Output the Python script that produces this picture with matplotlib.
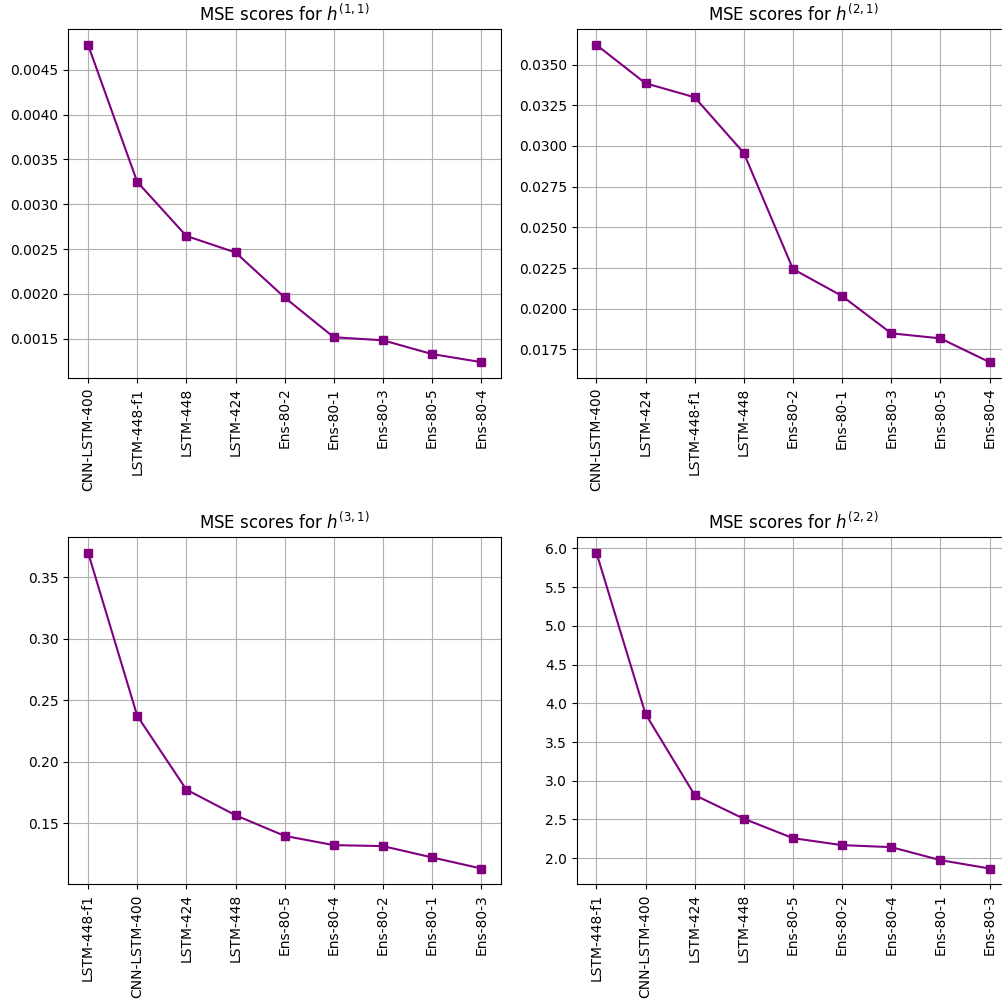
import matplotlib
matplotlib.use("Agg")
import matplotlib.pyplot as plt

labels_11 = ["CNN-LSTM-400", "LSTM-448-f1", "LSTM-448", "LSTM-424", "Ens-80-2",
             "Ens-80-1", "Ens-80-3", "Ens-80-5", "Ens-80-4"]
mse_11 = [0.00478, 0.00325, 0.002646, 0.002462, 0.001959, 0.001515, 0.001481, 0.001327, 0.001237]

labels_21 = ["CNN-LSTM-400", "LSTM-424", "LSTM-448-f1", "LSTM-448", "Ens-80-2",
             "Ens-80-1", "Ens-80-3", "Ens-80-5", "Ens-80-4"]
mse_21 = [0.03621, 0.03385, 0.03299, 0.02957, 0.02244, 0.02078, 0.01849, 0.01818, 0.01672]

labels_31 = ["LSTM-448-f1", "CNN-LSTM-400", "LSTM-424", "LSTM-448", "Ens-80-5",
             "Ens-80-4", "Ens-80-2", "Ens-80-1", "Ens-80-3"]
mse_31 = [0.370, 0.2373, 0.1773, 0.1565, 0.1397, 0.1322, 0.1314, 0.1222, 0.1132]

labels_22 = ["LSTM-448-f1", "CNN-LSTM-400", "LSTM-424", "LSTM-448", "Ens-80-5",
             "Ens-80-2", "Ens-80-4", "Ens-80-1", "Ens-80-3"]
mse_22 = [5.948, 3.862, 2.815, 2.509, 2.258, 2.168, 2.142, 1.974, 1.866]

panels = [
    (labels_11, mse_11, r"MSE scores for $h^{(1,1)}$"),
    (labels_21, mse_21, r"MSE scores for $h^{(2,1)}$"),
    (labels_31, mse_31, r"MSE scores for $h^{(3,1)}$"),
    (labels_22, mse_22, r"MSE scores for $h^{(2,2)}$"),
]

fig = plt.figure(figsize=(10.02, 10.08), dpi=100)
W, H = 1002.0, 1008.0
rects = [
    (68.4, 29, 432.5, 349),
    (576.7, 29, 432.5, 349),
    (68.4, 536.7, 432.5, 347.6),
    (576.7, 536.7, 432.5, 347.6),
]
for (x, y, w, h), (labs, vals, title) in zip(rects, panels):
    ax = fig.add_axes([x / W, 1 - (y + h) / H, w / W, h / H])
    ax.plot(labs, vals, color="purple", marker="s")
    ax.set_title(title)
    ax.grid(True)
    ax.tick_params(axis="x", rotation=90)

fig.savefig("out.png", dpi=100)
